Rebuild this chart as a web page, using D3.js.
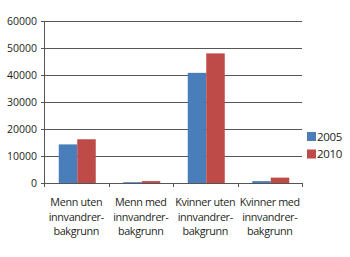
<!DOCTYPE html>
<html>
<head>
<meta charset="utf-8">
<script src="https://cdn.jsdelivr.net/npm/d3@7"></script>
<style>
  body { margin: 0; background: #fff; }
  text { font-family: "Open Sans", sans-serif; fill: #231f20; }
</style>
</head>
<body>
<div id="cont"></div>
<script>
// Data
var categories = [
  ["Menn uten", "innvandrer-", "bakgrunn"],
  ["Menn med", "innvandrer-", "bakgrunn"],
  ["Kvinner uten", "innvandrer-", "bakgrunn"],
  ["Kvinner med", "innvandrer-", "bakgrunn"]
];
var seriesNames = ["2005", "2010"];
var values2005 = [14300, 300, 40800, 700];
var values2010 = [16200, 700, 48000, 2000];
var yTicks = [0, 10000, 20000, 30000, 40000, 50000, 60000];
var colors = ["#4a7ebb", "#be4b48"];

// Layout
var width = 350, height = 257;
var mLeft = 44, mRight = 302, mTop = 21, mBottom = 183;

var svg = d3.select("#cont").append("svg")
    .attr("width", width)
    .attr("height", height);

var x = d3.scaleBand()
    .domain(d3.range(categories.length))
    .range([mLeft, mRight]);

var y = d3.scaleLinear()
    .domain([0, 60000])
    .range([mBottom, mTop]);

// gridlines
svg.append("g").selectAll("line")
    .data(yTicks)
    .join("line")
    .attr("x1", mLeft - 3)
    .attr("x2", mRight)
    .attr("y1", function(d) { return Math.round(y(d)) + 0.5; })
    .attr("y2", function(d) { return Math.round(y(d)) + 0.5; })
    .attr("stroke", "#555")
    .attr("stroke-width", 1);

// y labels
svg.append("g").selectAll("text")
    .data(yTicks)
    .join("text")
    .attr("x", mLeft - 7)
    .attr("y", function(d) { return y(d) + 4; })
    .attr("text-anchor", "end")
    .attr("font-size", "10.5px")
    .text(function(d) { return d; });

// bars
var barW = 18.5;
var series = [values2005, values2010];
series.forEach(function(vals, s) {
  svg.append("g").selectAll("rect")
      .data(vals)
      .join("rect")
      .attr("x", function(d, i) { return x(i) + x.bandwidth() / 2 - barW + 1 + s * barW; })
      .attr("y", function(d) { return y(d); })
      .attr("width", barW)
      .attr("height", function(d) { return mBottom - y(d); })
      .attr("fill", colors[s]);
});

// y axis line
svg.append("line")
    .attr("x1", mLeft + 0.5).attr("x2", mLeft + 0.5)
    .attr("y1", mTop).attr("y2", mBottom + 1)
    .attr("stroke", "#555");

// x axis line and ticks
svg.append("line")
    .attr("x1", mLeft).attr("x2", mRight)
    .attr("y1", mBottom + 0.5).attr("y2", mBottom + 0.5)
    .attr("stroke", "#555");

svg.append("g").selectAll("line")
    .data(d3.range(categories.length + 1))
    .join("line")
    .attr("x1", function(d) { return Math.round(mLeft + d * x.step()) + 0.5; })
    .attr("x2", function(d) { return Math.round(mLeft + d * x.step()) + 0.5; })
    .attr("y1", mBottom)
    .attr("y2", mBottom + 4)
    .attr("stroke", "#555");

// x labels
var lab = svg.append("g").selectAll("text")
    .data(categories)
    .join("text")
    .attr("text-anchor", "middle")
    .attr("font-size", "10.8px")
    .attr("letter-spacing", "-0.35px");

lab.selectAll("tspan")
    .data(function(d, i) { return d.map(function(t) { return { t: t, i: i }; }); })
    .join("tspan")
    .attr("x", function(d) { return x(d.i) + x.bandwidth() / 2; })
    .attr("y", function(d, j) { return 206 + j * 14.5; })
    .text(function(d) { return d.t; });

// legend
var leg = svg.append("g").selectAll("g")
    .data(seriesNames)
    .join("g")
    .attr("transform", function(d, i) { return "translate(307," + (132 + i * 17.5) + ")"; });

leg.append("rect")
    .attr("width", 9)
    .attr("height", 9)
    .attr("fill", function(d, i) { return colors[i]; });

leg.append("text")
    .attr("x", 10)
    .attr("y", 8.5)
    .attr("font-size", "11.5px")
    .attr("letter-spacing", "-0.3px")
    .text(function(d) { return d; });
</script>
</body>
</html>
